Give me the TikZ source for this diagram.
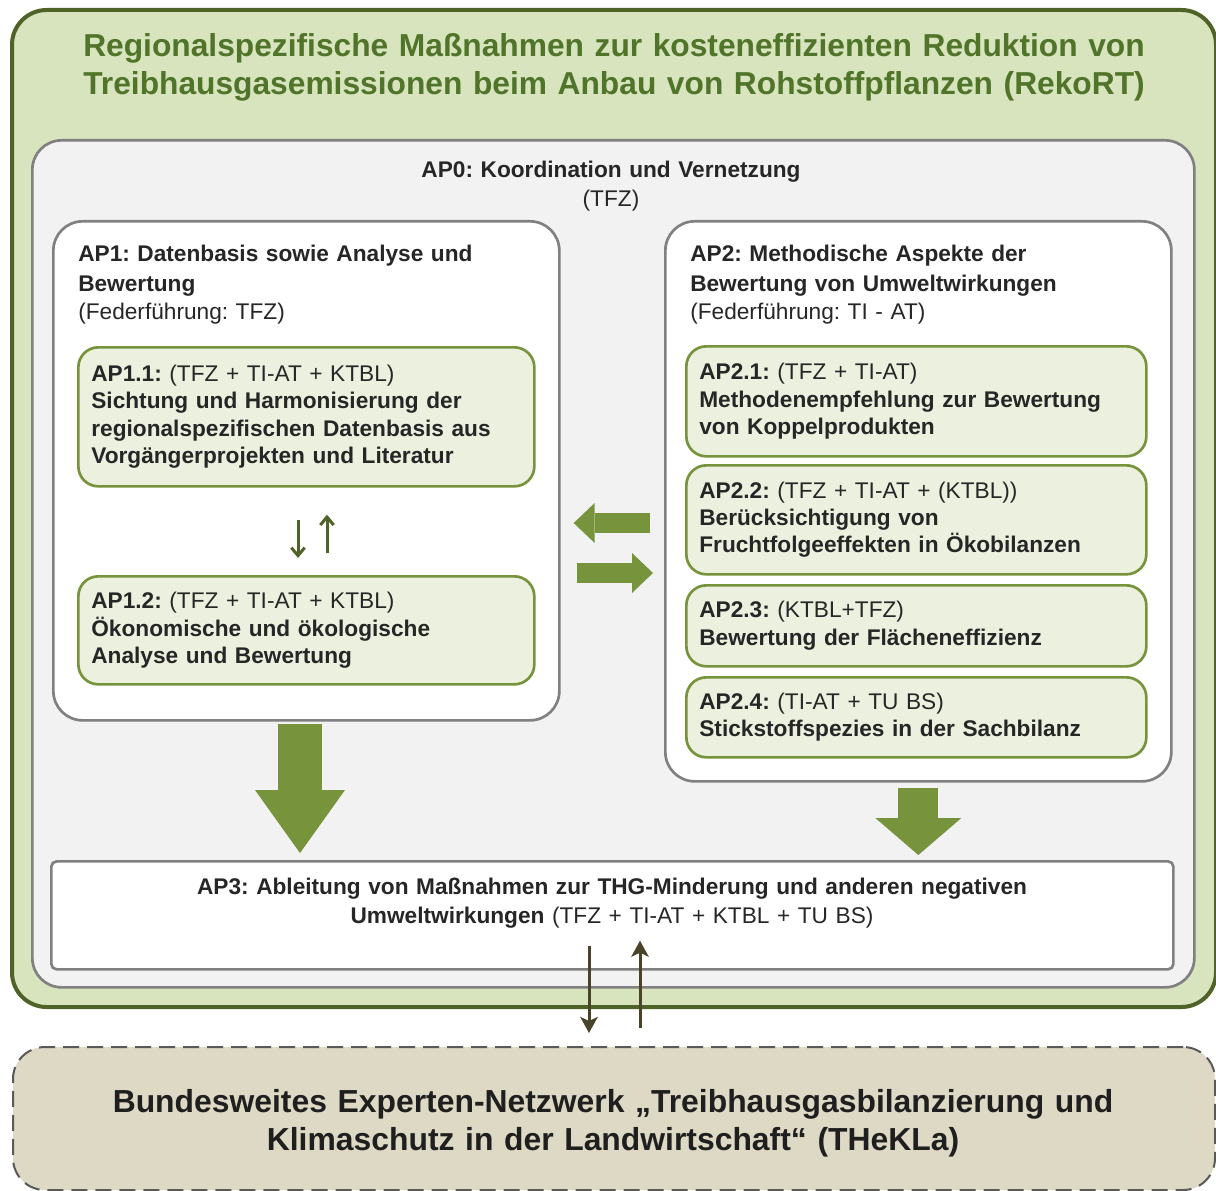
\documentclass[tikz,border=0pt]{standalone}
\usepackage{fontspec}
\setmainfont{Liberation Sans}
\usetikzlibrary{arrows.meta}
\frenchspacing

\definecolor{outerfill}{RGB}{215,228,189}
\definecolor{outerline}{RGB}{79,98,40}
\definecolor{titlegreen}{RGB}{80,116,42}
\definecolor{apfill}{RGB}{242,242,242}
\definecolor{apline}{RGB}{128,128,128}
\definecolor{subfill}{RGB}{235,241,222}
\definecolor{subline}{RGB}{119,147,60}
\definecolor{arrowgreen}{RGB}{119,147,60}
\definecolor{netzfill}{RGB}{221,217,196}
\definecolor{netzline}{RGB}{89,89,89}
\definecolor{linkcolor}{RGB}{73,68,41}
\definecolor{txt}{RGB}{38,38,38}

\newcommand\boxfont{\fontsize{17}{20.5}\selectfont}
\newcommand\headfont{\fontsize{17}{21.75}\selectfont}
\newcommand\bigtitlefont{\fontsize{23.8}{28.5}\selectfont\bfseries}
\newcommand\netzfont{\fontsize{23.9}{28.5}\selectfont\bfseries}

\tikzset{
  boxsize/.style 2 args={minimum width=#1*0.75pt, minimum height=#2*0.75pt},
  rekortbox/.style={draw=outerline, fill=outerfill, line width=3pt,
    rounded corners=26pt, inner sep=0pt, anchor=north west},
  apbox/.style={draw=apline, fill=white, line width=2pt,
    rounded corners=22pt, inner sep=0pt, anchor=north west},
  subbox/.style 2 args={draw=subline, fill=subfill, line width=2pt,
    rounded corners=15pt, inner xsep=9.75pt, inner ysep=0pt,
    anchor=north west, align=left, boxsize={#1}{#2},
    text width=(#1-26)*0.75pt},
  headtext/.style={anchor=base west, inner sep=0pt, align=left,
    font=\headfont, text width=460*0.75pt},
  centertext/.style={anchor=base, inner sep=0pt, align=center,
    text width=#1*0.75pt},
  bigarrow/.style n args={3}{color=arrowgreen, line width=#1,
    -{Triangle[length=#2, width=#3, line width=0pt]}},
  midarrow/.style={color=arrowgreen, line width=15pt,
    -{Triangle[length=15.75pt, width=30pt, line width=0pt]}},
  smallarrow/.style={color=outerline, line width=2.25pt,
    -{Straight Barb[length=6pt, width=10pt]}},
  linkarrow/.style={color=linkcolor, line width=2.25pt,
    -{Stealth[length=12pt, width=13pt, inset=3pt]}}
}

\begin{document}
\begin{tikzpicture}[x=0.75pt, y=-0.75pt, font=\boxfont, text=txt]

  \useasboundingbox (0,0) rectangle (1216,1191);

  % outer frame with title
  \node[rekortbox, boxsize={1204}{997}] (rekort) at (10,8) {};
  \node[centertext=1190, font=\bigtitlefont, text=titlegreen] (titel) at (614,57)
    {Regionalspezifische Maßnahmen zur kosteneffizienten Reduktion von\\
     Treibhausgasemissionen beim Anbau von Rohstoffpflanzen (RekoRT)};

  % AP0
  \node[apbox, fill=apfill, boxsize={1162}{847}] (ap0) at (31,139) {};
  \node[centertext=800, font=\headfont] (ap0t) at (611,178)
    {\textbf{AP0: Koordination und Vernetzung}\\(TFZ)};

  % AP1 with its two parts
  \node[apbox, boxsize={506}{499}] (ap1) at (52,220) {};
  \node[headtext] (ap1t) at ([shift={(26,42)}]ap1.north west)
    {\textbf{AP1: Datenbasis sowie Analyse und}\\\textbf{Bewertung}\\(Federführung: TFZ)};
  \node[subbox={456}{139}] (ap11) at (77,346)
    {\textbf{AP1.1:} (TFZ + TI-AT + KTBL)\\\bfseries Sichtung und Harmonisierung der\\
     regionalspezifischen Datenbasis aus\\Vorgängerprojekten und Literatur};
  \node[subbox={456}{108}] (ap12) at (77,575)
    {\textbf{AP1.2:} (TFZ + TI-AT + KTBL)\\\bfseries Ökonomische und ökologische\\
     Analyse und Bewertung};

  % AP2 with its four parts
  \node[apbox, boxsize={506}{560}] (ap2) at (664,220) {};
  \node[headtext] (ap2t) at ([shift={(26,42)}]ap2.north west)
    {\textbf{AP2: Methodische Aspekte der}\\\textbf{Bewertung von Umweltwirkungen}\\(Federführung: TI - AT)};
  \node[subbox={460}{110}] (ap21) at (685,345)
    {\textbf{AP2.1:} (TFZ + TI-AT)\\\bfseries Methodenempfehlung zur Bewertung\\von Koppelprodukten};
  \node[subbox={460}{109}] (ap22) at (685,464)
    {\textbf{AP2.2:} (TFZ + TI-AT + (KTBL))\\\bfseries Berücksichtigung von\\Fruchtfolgeeffekten in Ökobilanzen};
  \node[subbox={460}{81}] (ap23) at (685,584)
    {\textbf{AP2.3:} (KTBL+TFZ)\\\bfseries Bewertung der Flächeneffizienz};
  \node[subbox={460}{80}] (ap24) at (685,676)
    {\textbf{AP2.4:} (TI-AT + TU BS)\\\bfseries Stickstoffspezies in der Sachbilanz};

  % AP3
  \node[apbox, rounded corners=4pt, boxsize={1122}{108}] (ap3) at (50,860) {};
  \node[centertext=1100, font=\headfont] (ap3t) at (612,894)
    {\textbf{AP3: Ableitung von Maßnahmen zur THG-Minderung und anderen negativen}\\
     \textbf{Umweltwirkungen} (TFZ + TI-AT + KTBL + TU BS)};

  % expert network
  \node[apbox, draw=netzline, fill=netzfill, line width=1.5pt,
        dash pattern=on 12pt off 6pt, rounded corners=24pt,
        boxsize={1202}{143}] (netz) at (12,1046) {};
  \node[centertext=1190, font=\netzfont, text=black!88] (netzt) at (613,1112)
    {Bundesweites Experten-Netzwerk „Treibhausgasbilanzierung und\\
     Klimaschutz in der Landwirtschaft“ (THeKLa)};

  % arrow positions
  \coordinate (lgap) at (0,523);
  \coordinate (rgap) at (0,573);
  \coordinate (pdn) at (298,0);
  \coordinate (pup) at (327,0);
  \coordinate (bl) at (300,0);
  \coordinate (cdn) at (589,0);
  \coordinate (cup) at (640,0);

  % arrows between AP1 and AP2
  \draw[midarrow, shorten <=10.5pt, shorten >=9.75pt] (ap2.west |- lgap) -- (ap1.east |- lgap);
  \draw[midarrow, shorten <=12pt, shorten >=8.25pt] (ap1.east |- rgap) -- (ap2.west |- rgap);

  % arrows inside AP1
  \draw[smallarrow, shorten <=24pt, shorten >=12.75pt] (ap11.south -| pdn) -- (ap12.north -| pdn);
  \draw[smallarrow, shorten <=16.5pt, shorten >=20.25pt] (ap12.north -| pup) -- (ap11.south -| pup);

  % block arrows down to AP3
  \draw[bigarrow={33pt}{47.25pt}{67.5pt}, shorten <=1.5pt, shorten >=5.25pt]
    (ap1.south -| bl) -- (ap3.north -| bl);
  \draw[bigarrow={30pt}{27.75pt}{64.5pt}, shorten <=3.75pt, shorten >=3.75pt]
    (ap2.south) -- (ap3.north -| ap2.south);

  % exchange with the network
  \draw[linkarrow, shorten <=-18.75pt, shorten >=9.75pt] (ap3.south -| cdn) -- (netz.north -| cdn);
  \draw[linkarrow, shorten <=13.5pt, shorten >=-22.5pt] (netz.north -| cup) -- (ap3.south -| cup);

\end{tikzpicture}
\end{document}
